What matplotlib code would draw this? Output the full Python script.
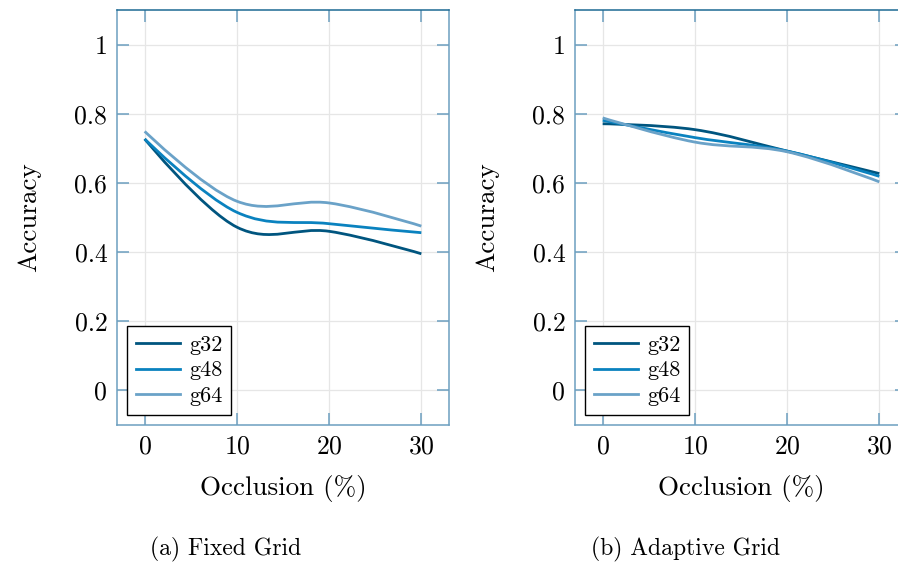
import numpy as np
import matplotlib
matplotlib.use("Agg")
import matplotlib.pyplot as plt
from matplotlib.path import Path
from matplotlib.patches import PathPatch
from matplotlib.lines import Line2D

plt.rcParams['font.family'] = ['cmr10', 'DejaVu Serif']
plt.rcParams['axes.formatter.use_mathtext'] = True
plt.rcParams['mathtext.fontset'] = 'cm'

occlusion = [0, 10, 20, 30]
labels = ['g32', 'g48', 'g64']
colors = ['#00557f', '#0a82bf', '#6aa2c8']

# fixed grid
fixed_g32 = [0.727, 0.472, 0.460, 0.395]
fixed_g48 = [0.727, 0.515, 0.482, 0.456]
fixed_g64 = [0.749, 0.547, 0.542, 0.475]

# adaptive grid
adapt_g32 = [0.771, 0.754, 0.692, 0.627]
adapt_g48 = [0.781, 0.731, 0.692, 0.619]
adapt_g64 = [0.788, 0.718, 0.690, 0.603]

spine_dark = '#1d6a93'
spine_light = '#6c9fc0'


def smooth_path(xs, ys, tension=0.18):
    # bezier curve through the points, like pgfplots "smooth"
    pts = np.column_stack([xs, ys]).astype(float)
    n = len(pts)
    verts = [pts[0]]
    codes = [Path.MOVETO]
    for i in range(n - 1):
        p0 = pts[i - 1] if i > 0 else pts[i]
        p1 = pts[i]
        p2 = pts[i + 1]
        p3 = pts[i + 2] if i + 2 < n else pts[i + 1]
        c1 = p1 + tension * (p2 - p0) if i > 0 else p1
        c2 = p2 - tension * (p3 - p1) if i + 2 < n else p2
        verts += [c1, c2, p2]
        codes += [Path.CURVE4] * 3
    return Path(verts, codes)


def draw_panel(ax, series):
    for ys, lab, c in zip(series, labels, colors):
        ax.add_patch(PathPatch(smooth_path(occlusion, ys), fill=False,
                               edgecolor=c, lw=2.0, capstyle='butt'))
    ax.set_xlim(-3, 33)
    ax.set_ylim(-0.1, 1.1)
    ax.set_xticks([0, 10, 20, 30])
    ax.set_yticks([0, 0.2, 0.4, 0.6, 0.8, 1])
    ax.set_yticklabels(['0', '0.2', '0.4', '0.6', '0.8', '1'])
    ax.grid(True, color='#e6e6e6', lw=0.9)
    ax.set_axisbelow(True)
    ax.tick_params(direction='in', length=8.5, width=1.1, top=True, right=True,
                   labelsize=18.5, color=spine_light, pad=7)
    for side in ['left', 'right', 'bottom']:
        ax.spines[side].set_color(spine_light)
        ax.spines[side].set_linewidth(1.1)
    ax.spines['top'].set_color(spine_dark)
    ax.spines['top'].set_linewidth(1.1)
    ax.set_xlabel('Occlusion (%)', fontsize=19.5, labelpad=12)
    ax.set_ylabel('Accuracy', fontsize=19.5, labelpad=24)
    handles = [Line2D([], [], color=c, lw=2.0) for c in colors]
    leg = ax.legend(handles, labels, loc='lower left', fontsize=16,
                    fancybox=False, framealpha=1, edgecolor='black',
                    handlelength=2.0, handletextpad=0.4, borderpad=0.4,
                    labelspacing=0.28, borderaxespad=0.45)
    leg.get_frame().set_linewidth(1.0)


fig = plt.figure(figsize=(8.98, 5.64), dpi=100)
ax1 = fig.add_axes([0.1303, 0.2465, 0.3697, 0.7358])
ax2 = fig.add_axes([0.6403, 0.2465, 0.3697, 0.7358])

draw_panel(ax1, [fixed_g32, fixed_g48, fixed_g64])
draw_panel(ax2, [adapt_g32, adapt_g48, adapt_g64])

fig.text(0.2517, 0.025, '(a) Fixed Grid', ha='center', va='center', fontsize=17)
fig.text(0.763, 0.025, '(b) Adaptive Grid', ha='center', va='center', fontsize=17)

fig.savefig('out.png', dpi=100)
